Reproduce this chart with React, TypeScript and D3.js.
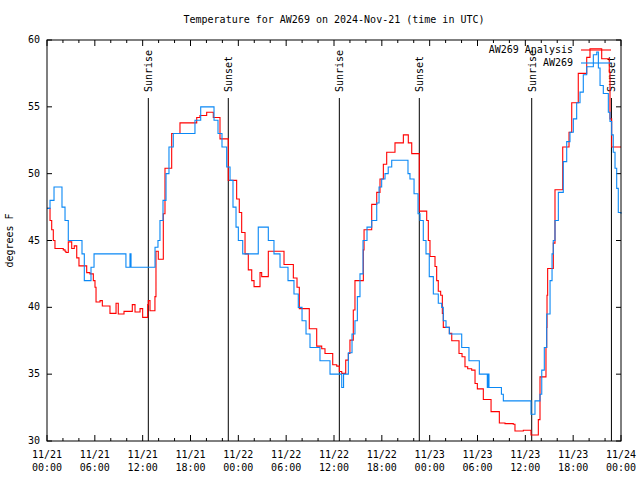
import React from "react";
import * as d3 from "d3";

const TITLE = "Temperature for AW269 on 2024-Nov-21 (time in UTC)";
const Y_LABEL = "degrees F";
const Y_TICKS = [30, 35, 40, 45, 50, 55, 60];
const X_TICK_HOURS = [0, 6, 12, 18, 24, 30, 36, 42, 48, 54, 60, 66, 72];
const X_TICK_DATES = ["11/21", "11/21", "11/21", "11/21", "11/22", "11/22", "11/22", "11/22", "11/23", "11/23", "11/23", "11/23", "11/24"];
const X_TICK_TIMES = ["00:00", "06:00", "12:00", "18:00", "00:00", "06:00", "12:00", "18:00", "00:00", "06:00", "12:00", "18:00", "00:00"];

const SUN_HOURS = [12.71, 22.74, 36.67, 46.7, 60.8, 70.8];
const SUN_LABELS = ["Sunrise", "Sunset", "Sunrise", "Sunset", "Sunrise", "Sunset"];

const SERIES_NAMES = ["AW269 Analysis", "AW269"];

// AW269 Analysis (red): hours since 11/21 00:00, temperature °F
const ANALYSIS_HOURS = [
  0, 0.38, 0.59, 0.79, 1.0, 1.63, 2.04, 2.26, 2.38, 2.67, 3.1, 3.42, 3.73, 4.01, 4.55, 4.98, 5.39, 5.81,
  6.02, 6.15, 6.65, 6.94, 7.49, 7.9, 8.4, 8.66, 8.94, 9.5, 9.66, 10.41, 10.7, 11.04, 11.54, 11.67, 12.0,
  12.42, 12.63, 12.71, 12.92, 13.46, 13.54, 13.67, 13.96, 14.51, 14.59, 14.8, 15.43, 15.64, 16.43, 16.68, 18.44,
  18.78, 19.19, 20.03, 20.66, 20.86, 21.58, 21.7, 22.45, 22.74, 23.49, 23.79, 24.12, 24.42, 24.84, 25.25,
  25.68, 25.97, 26.5, 26.72, 26.93, 27.56, 27.76, 29.57, 29.73, 30.48, 30.9, 31.36, 31.65, 32.58, 32.9,
  33.62, 33.83, 34.46, 34.87, 35.5, 35.84, 36.34, 36.67, 36.97, 37.26, 37.47, 37.8, 38.0, 38.42, 38.63,
  39.35, 39.68, 39.77, 40.43, 40.73, 41.14, 41.36, 41.77, 42.19, 42.61, 43.24, 43.65, 44.28, 44.7, 45.12,
  45.32, 45.75, 46.58, 46.7, 47.42, 47.63, 47.83, 48.04, 48.46, 48.67, 48.88, 49.08, 49.38, 49.59, 49.71,
  50.14, 50.47, 50.77, 51.47, 51.68, 52.06, 52.43, 52.77, 53.27, 53.69, 53.98, 54.53, 54.73, 55.57, 55.7,
  56.49, 56.74, 57.45, 58.49, 58.7, 59.54, 59.75, 60.5, 60.71, 61.5, 61.63, 61.84, 62.55, 62.59, 62.68,
  62.72, 62.8, 63.43, 63.51, 63.72, 64.44, 64.69, 65.23, 65.48, 65.82, 66.44, 66.64, 67.49, 67.7, 68.11,
  69.37, 69.58, 70.41, 70.53, 70.62, 70.83, 72.0,
];
const ANALYSIS_TEMPS = [
  47.4, 46.5, 45.8, 45.0, 44.4, 44.4, 44.3, 44.2, 44.1, 44.9, 44.4, 44.6, 43.7, 43.1, 43.1, 42.6, 42.5, 42.0,
  41.5, 40.4, 40.5, 40.1, 40.1, 39.55, 39.55, 40.3, 39.5, 39.5, 39.7, 39.7, 40.2, 39.65, 39.65, 39.9, 39.25,
  39.25, 40.2, 40.5, 39.75, 39.75, 40.8, 44.2, 43.6, 43.6, 47.0, 50.4, 50.4, 53.0, 53.0, 53.8, 53.8,
  54.2, 54.35, 54.6, 54.6, 54.2, 54.2, 52.6, 52.6, 49.5, 49.5, 48.1, 47.1, 45.6, 44.0, 42.8,
  42.0, 41.55, 41.55, 42.6, 42.3, 42.3, 44.2, 44.2, 43.2, 43.2, 42.2, 41.5, 39.9, 39.9, 38.4,
  38.4, 37.1, 36.9, 36.55, 36.55, 35.7, 35.6, 35.2, 35.06, 35.06, 36.05, 36.55, 37.55, 39.8, 42.0,
  42.0, 44.3, 45.8, 45.8, 47.7, 47.7, 48.6, 49.6, 50.7, 51.6, 51.6, 52.3, 52.3, 52.9, 52.9,
  52.3, 51.5, 51.5, 47.2, 47.2, 46.5, 45.0, 43.8, 43.8, 43.05, 42.0, 41.2, 40.9, 39.55, 38.5,
  38.5, 38.05, 37.5, 37.5, 36.55, 36.3, 35.55, 35.4, 35.3, 34.3, 33.9, 33.9, 33.1, 33.1, 32.2,
  32.2, 31.35, 31.3, 31.25, 30.75, 30.75, 30.8, 30.8, 30.45, 30.45, 31.6, 34.8, 34.8, 37.0, 38.5,
  40.9, 42.9, 42.9, 44.8, 48.8, 48.8, 52.0, 52.0, 53.1, 55.3, 55.3, 57.5, 57.5, 58.7, 59.35,
  59.35, 58.6, 58.6, 57.6, 54.1, 52.0, 52.0,
];

// AW269 observations (blue)
const OBS_HOURS = [
  0, 0.38, 0.88, 1.38, 1.88, 2.26, 2.67, 4.01, 4.39, 4.68, 5.18, 5.52, 5.9, 9.7, 9.9, 10.16, 10.41, 10.54,
  13.2, 13.55, 13.92, 14.17, 14.55, 14.93, 15.3, 15.84, 18.23, 18.56, 19.28, 20.53, 20.95, 21.45, 21.95,
  22.54, 22.96, 23.33, 23.71, 24.0, 24.55, 26.0, 26.5, 27.56, 27.76, 28.26, 28.47, 29.23, 29.6, 30.23,
  30.98, 31.52, 31.99, 32.49, 32.99, 34.03, 34.24, 35.29, 35.5, 36.75, 36.97, 37.2, 37.8, 38.26, 38.63,
  38.93, 39.26, 39.64, 40.14, 40.73, 41.36, 41.65, 41.98, 42.4, 42.8, 43.24, 44.9, 45.28, 45.53, 46.04,
  46.54, 46.79, 47.2, 47.54, 47.95, 48.46, 49.08, 49.51, 49.71, 50.05, 50.47, 51.72, 52.02, 52.85, 52.93,
  54.02, 54.23, 55.07, 55.23, 55.35, 55.44, 55.66, 56.82, 57.0, 57.24, 60.5, 60.71, 60.96, 61.21, 61.75,
  61.84, 62.06, 62.38, 62.68, 63.1, 63.35, 63.5, 63.72, 64.14, 64.76, 65.19, 65.6, 66.02, 66.44, 66.86,
  67.27, 67.7, 68.33, 68.53, 68.96, 69.16, 69.37, 69.78, 70.21, 70.41, 70.62, 70.83, 71.03, 71.25, 71.46,
  71.66, 72.0,
];
const OBS_TEMPS = [
  47.4, 48.0, 49.0, 49.0, 47.5, 46.5, 45.0, 45.0, 44.0, 42.0, 42.0, 43.0, 44.0, 44.0, 43.0, 43.0, 44.0, 43.0,
  43.0, 44.5, 45.0, 46.5, 48.0, 50.0, 52.0, 53.0, 53.0, 54.0, 55.0, 55.0, 54.0, 53.0, 52.0,
  50.5, 49.5, 47.5, 46.0, 45.0, 44.0, 44.0, 46.0, 46.0, 45.0, 45.0, 44.0, 43.0, 43.0, 42.0,
  41.0, 40.0, 39.0, 38.0, 37.0, 37.0, 36.0, 36.0, 35.0, 35.0, 34.0, 35.0, 36.6, 38.0, 39.0,
  40.8, 42.5, 45.0, 46.0, 46.5, 47.8, 49.0, 49.6, 50.0, 50.5, 51.0, 51.0, 50.0, 49.6, 48.5,
  47.0, 46.5, 45.0, 44.0, 42.3, 41.0, 40.3, 40.0, 39.0, 38.5, 38.0, 38.0, 37.0, 37.0, 36.0,
  36.0, 35.0, 35.0, 34.0, 35.0, 34.0, 34.0, 34.0, 33.5, 33.0, 33.0, 32.0, 32.0, 33.0, 33.0,
  33.5, 35.3, 37.0, 39.5, 42.0, 44.0, 45.0, 46.5, 48.6, 50.9, 52.4, 53.1, 54.1, 55.3, 56.1,
  57.4, 58.0, 58.0, 58.9, 59.1, 57.9, 56.6, 56.0, 56.0, 54.6, 53.9, 52.9, 51.6, 50.4, 48.9,
  47.1, 47.0,
];

const W = 640;
const H = 480;
const M = { left: 47, right: 621, top: 40, bottom: 441 };
const FONT = "'DejaVu Sans Mono', monospace";
const RED = "#ff0000";
const BLUE = "#0a88f5";

export default function App() {
  const x = d3.scaleLinear().domain([0, 72]).range([M.left, M.right]);
  const y = d3.scaleLinear().domain([30, 60]).range([M.bottom, M.top]);

  const line = d3
    .line<[number, number]>()
    .x((d) => x(d[0]))
    .y((d) => y(d[1]))
    .curve(d3.curveStepAfter);

  const analysis = ANALYSIS_HOURS.map((h, i) => [h, ANALYSIS_TEMPS[i]] as [number, number]);
  const obs = OBS_HOURS.map((h, i) => [h, OBS_TEMPS[i]] as [number, number]);

  const minorTicks = d3.range(0, 73, 2).filter((h) => h % 6 !== 0);

  return (
    <svg
      width={W}
      height={H}
      style={{ position: "absolute", left: 0, top: 0, background: "#fff" }}
      fontFamily={FONT}
    >
      <rect x={0} y={0} width={W} height={H} fill="#fff" />
      <text x={(M.left + M.right) / 2} y={23} fontSize={10} textAnchor="middle" fill="#000">
        {TITLE}
      </text>
      <text
        transform={`translate(10,${(M.top + M.bottom) / 2}) rotate(-90)`}
        fontSize={10}
        textAnchor="middle"
        dominantBaseline="middle"
        fill="#000"
      >
        {Y_LABEL}
      </text>

      {Y_TICKS.map((t) => (
        <g key={"y" + t}>
          <line x1={M.left} x2={M.left + 5} y1={y(t)} y2={y(t)} stroke="#000" />
          <line x1={M.right} x2={M.right - 5} y1={y(t)} y2={y(t)} stroke="#000" />
          <text x={40} y={y(t)} fontSize={10} textAnchor="end" dominantBaseline="middle" fill="#000">
            {t}
          </text>
        </g>
      ))}

      {X_TICK_HOURS.map((h, i) => (
        <g key={"x" + h}>
          <line x1={x(h)} x2={x(h)} y1={M.bottom} y2={M.bottom - 6} stroke="#000" />
          <line x1={x(h)} x2={x(h)} y1={M.top} y2={M.top + 6} stroke="#000" />
          <text x={x(h)} y={458} fontSize={10} textAnchor="middle" fill="#000">
            {X_TICK_DATES[i]}
          </text>
          <text x={x(h)} y={471} fontSize={10} textAnchor="middle" fill="#000">
            {X_TICK_TIMES[i]}
          </text>
        </g>
      ))}
      {minorTicks.map((h) => (
        <g key={"m" + h}>
          <line x1={x(h)} x2={x(h)} y1={M.bottom} y2={M.bottom - 3} stroke="#000" />
          <line x1={x(h)} x2={x(h)} y1={M.top} y2={M.top + 3} stroke="#000" />
        </g>
      ))}

      {SUN_HOURS.map((h, i) => (
        <g key={"s" + i}>
          <line x1={x(h)} x2={x(h)} y1={98} y2={M.bottom} stroke="#000" />
          <text
            transform={`translate(${x(h) + 1},92) rotate(-90)`}
            fontSize={10}
            textAnchor="start"
            dominantBaseline="middle"
            fill="#000"
          >
            {SUN_LABELS[i]}
          </text>
        </g>
      ))}

      <path d={line(analysis) || ""} fill="none" stroke={RED} strokeWidth={1.1} />
      <path d={line(obs) || ""} fill="none" stroke={BLUE} strokeWidth={1.1} />

      <text x={573} y={50} fontSize={10} textAnchor="end" dominantBaseline="middle" fill="#000">
        {SERIES_NAMES[0]}
      </text>
      <line x1={581} x2={611} y1={50} y2={50} stroke={RED} strokeWidth={1.1} />
      <text x={573} y={63} fontSize={10} textAnchor="end" dominantBaseline="middle" fill="#000">
        {SERIES_NAMES[1]}
      </text>
      <line x1={581} x2={611} y1={63} y2={63} stroke={BLUE} strokeWidth={1.1} />

      <rect
        x={M.left}
        y={M.top}
        width={M.right - M.left}
        height={M.bottom - M.top}
        fill="none"
        stroke="#000"
      />
    </svg>
  );
}
